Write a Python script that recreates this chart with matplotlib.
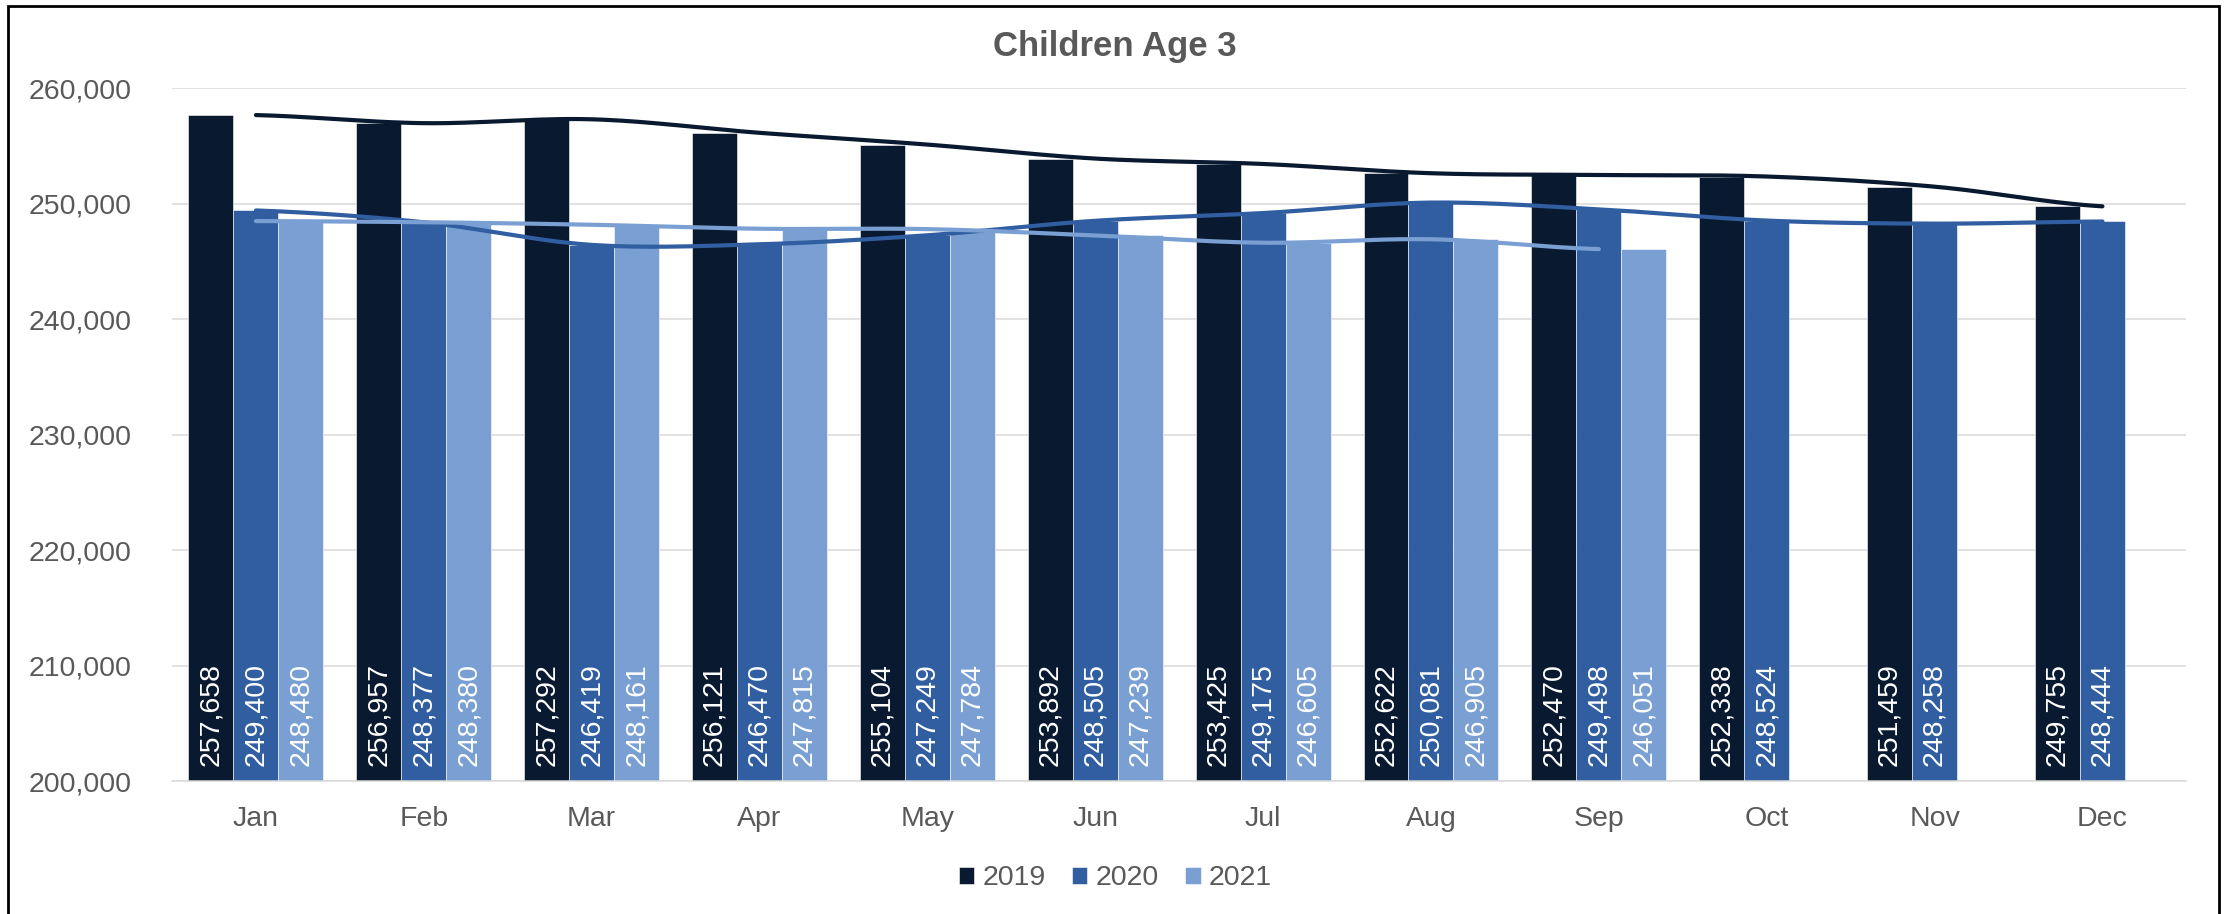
import numpy as np
import matplotlib
matplotlib.use("Agg")
import matplotlib.pyplot as plt
from matplotlib.patches import Rectangle

months = ["Jan", "Feb", "Mar", "Apr", "May", "Jun", "Jul", "Aug", "Sep", "Oct", "Nov", "Dec"]
v2019 = [257658, 256957, 257292, 256121, 255104, 253892, 253425, 252622, 252470, 252338, 251459, 249755]
v2020 = [249400, 248377, 246419, 246470, 247249, 248505, 249175, 250081, 249498, 248524, 248258, 248444]
v2021 = [248480, 248380, 248161, 247815, 247784, 247239, 246605, 246905, 246051]

years = ["2019", "2020", "2021"]
colors = ["#091930", "#305EA0", "#7A9FD2"]
grey = "#595959"

plt.rcParams["font.family"] = ["Liberation Sans", "DejaVu Sans"]


def smooth(xs, ys, n=30):
    # catmull-rom through the points, like excel's smoothed line
    xs = np.asarray(xs, float)
    ys = np.asarray(ys, float)
    px = np.concatenate([[2 * xs[0] - xs[1]], xs, [2 * xs[-1] - xs[-2]]])
    py = np.concatenate([[ys[0]], ys, [ys[-1]]])
    ox, oy = [], []
    t = np.linspace(0, 1, n)
    for i in range(1, len(px) - 2):
        for arr, out in ((px, ox), (py, oy)):
            p0, p1, p2, p3 = arr[i - 1], arr[i], arr[i + 1], arr[i + 2]
            out.extend(0.5 * (2 * p1 + (-p0 + p2) * t
                              + (2 * p0 - 5 * p1 + 4 * p2 - p3) * t ** 2
                              + (-p0 + 3 * p1 - 3 * p2 + p3) * t ** 3))
    return np.array(ox), np.array(oy)


fig = plt.figure(figsize=(22.31, 9.14), dpi=100)
ax = fig.add_axes([0.0771, 0.1455, 0.9029, 0.7582])

x = np.arange(len(months))
w = 0.268
series = [v2019, v2020, v2021]
for k, vals in enumerate(series):
    xs = x[:len(vals)] + (k - 1) * w
    bars = ax.bar(xs, vals, width=w, color=colors[k], edgecolor="white",
                  linewidth=0.4, label=years[k], zorder=2)
    for xi, v in zip(xs, vals):
        ax.annotate(f"{v:,}", (xi, 200000), xytext=(0, 11), textcoords="offset points",
                    rotation=90, ha="center", va="bottom", color="white",
                    fontsize=20.5, zorder=4)

for k, vals in enumerate(series):
    sx, sy = smooth(x[:len(vals)], vals)
    ax.plot(sx, sy, color=colors[k], lw=3, solid_capstyle="round", zorder=3)

ax.set_xlim(-0.5, 11.5)
ax.set_ylim(200000, 260000)
ax.set_yticks(np.arange(200000, 260001, 10000))
ax.yaxis.set_major_formatter(matplotlib.ticker.FuncFormatter(lambda v, p: f"{int(v):,}"))
ax.set_xticks(x)
ax.set_xticklabels(months)
ax.tick_params(axis="both", length=0, labelsize=20.5, labelcolor=grey)
ax.tick_params(axis="x", pad=18)
ax.tick_params(axis="y", pad=29)
ax.grid(axis="y", color="#D9D9D9", lw=1.1, zorder=0)
ax.set_axisbelow(True)
for s in ["top", "right", "left"]:
    ax.spines[s].set_visible(False)
ax.spines["bottom"].set_color("#D9D9D9")
ax.spines["bottom"].set_linewidth(1.1)

fig.text(0.4995, 0.949, "Children Age 3", ha="center", va="center",
         fontsize=25, fontweight="bold", color=grey)

leg = fig.legend(loc="center", bbox_to_anchor=(0.5, 0.039), ncol=3, frameon=False,
                 fontsize=20.5, handlelength=0.55, handleheight=0.55,
                 handletextpad=0.3, columnspacing=0.9)
for t in leg.get_texts():
    t.set_color(grey)

fig.patches.append(Rectangle((0.0035, -0.01), 0.991, 1.003, transform=fig.transFigure,
                             fill=False, edgecolor="black", lw=2))

fig.savefig("out.png", dpi=100, facecolor="white")
